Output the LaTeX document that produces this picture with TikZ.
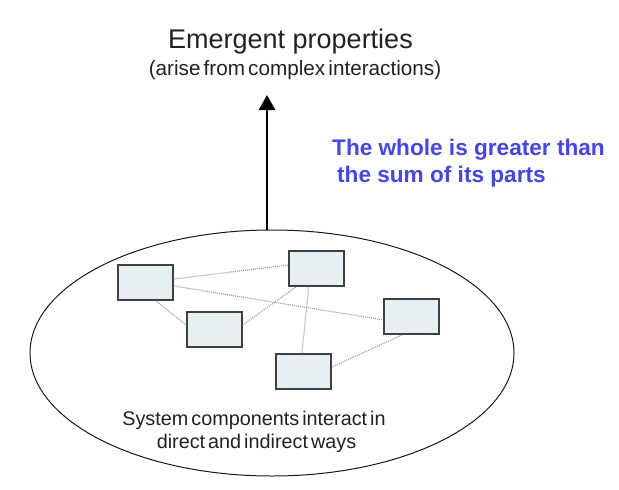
\documentclass[tikz,border=0pt]{standalone}
\usepackage{fontspec}
\setmainfont{Liberation Sans}
\newfontfamily\tightfont[WordSpace=0.55]{Liberation Sans}
\usetikzlibrary{arrows.meta,shapes.geometric}
\definecolor{boxfill}{RGB}{230,240,242}
\definecolor{boxline}{RGB}{64,64,64}
\definecolor{bluetext}{RGB}{68,68,240}
\definecolor{darktext}{RGB}{34,34,34}
\begin{document}
\begin{tikzpicture}[x=1pt,y=-1pt,
  comp/.style={draw=boxline,line width=1.4pt,fill=boxfill,minimum width=55pt,minimum height=35pt,inner sep=0pt},
  link/.style={draw=gray!80,dash pattern=on 1pt off 1pt,line width=1.1pt},
  lbl/.style={anchor=base,inner sep=0pt,text=darktext},
  bluelbl/.style={anchor=base west,inner sep=0pt,text=bluetext,font=\fontsize{22.6}{26}\selectfont\bfseries}]
\useasboundingbox (0,0) rectangle (619,490);
\fill[white] (0,0) rectangle (619,490);
% system ellipse
\node[ellipse,draw=black!90,line width=1pt,minimum width=484pt,minimum height=246pt,inner sep=0pt] (sys) at (272,353) {};
% components
\node[comp] (A) at (145.5,282.5) {};
\node[comp] (B) at (316.5,268.5) {};
\node[comp] (C) at (214.5,329.5) {};
\node[comp] (D) at (411.5,316.5) {};
\node[comp] (E) at (303.5,371.5) {};
% links
\draw[link] (A.7) -- (B.173);
\draw[link] (A.-7) -- (D.187);
\draw[link] (A.-61) -- (C.171);
\draw[link] (C.9) -- (B.-138);
\draw[link] (B.-113) -- (E.95);
\draw[link] (E.9) -- (D.-116);
% arrow
\coordinate (tip) at (267,95);
\draw[line width=2.5pt,-{Triangle[length=15pt,width=16pt]}] (sys.north -| tip) -- (tip);
% texts
\node[lbl,font=\fontsize{27}{31}\selectfont] (title) at (290.5,48) {Emergent properties};
\node[lbl,font=\tightfont\fontsize{20.7}{24}\selectfont] (sub) at (295,75) {(arise from complex interactions)};
\node[bluelbl] (wh1) at (332,155) {The whole is greater than};
\node[bluelbl] (wh2) at (337,182) {the sum of its parts};
\node[lbl,font=\tightfont\fontsize{19.8}{23}\selectfont] (sc1) at (254,425) {System components interact in};
\node[lbl,font=\tightfont\fontsize{19.8}{23}\selectfont] (sc2) at (256.5,448) {direct and indirect ways};
\end{tikzpicture}
\end{document}
